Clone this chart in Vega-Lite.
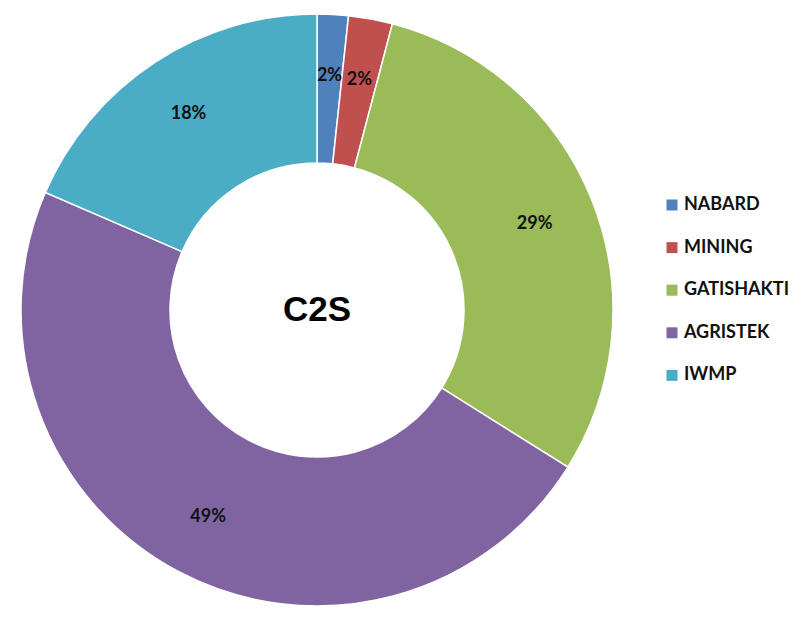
{
  "$schema": "https://vega.github.io/schema/vega-lite/v6.json",
  "width": 634,
  "height": 620,
  "padding": {"left": 0, "top": 0, "right": 173, "bottom": 7},
  "autosize": "none",
  "background": "white",
  "config": {"view": {"stroke": null}},
  "data": {"values": [
    {"idx": 1, "scheme": "NABARD", "value": 1.7, "label": "2%"},
    {"idx": 2, "scheme": "MINING", "value": 2.4, "label": "2%"},
    {"idx": 3, "scheme": "GATISHAKTI", "value": 29.8, "label": "29%"},
    {"idx": 4, "scheme": "AGRISTEK", "value": 47.6, "label": "49%"},
    {"idx": 5, "scheme": "IWMP", "value": 18.5, "label": "18%"}
  ]},
  "encoding": {
    "theta": {"field": "value", "type": "quantitative", "stack": true},
    "order": {"field": "idx", "type": "quantitative"}
  },
  "layer": [
    {
      "mark": {"type": "arc", "outerRadius": 296, "innerRadius": 147, "stroke": "white", "strokeWidth": 1.5},
      "encoding": {
        "color": {
          "field": "scheme", "type": "nominal",
          "scale": {"domain": ["NABARD", "MINING", "GATISHAKTI", "AGRISTEK", "IWMP"],
                    "range": ["#4F81BD", "#C0504D", "#9BBB59", "#8064A2", "#4BACC6"]},
          "legend": {
            "title": null, "orient": "none", "legendX": 663, "legendY": 196,
            "symbolType": "square", "symbolSize": 121, "symbolStrokeWidth": 0,
            "labelFont": "Lato", "labelFontWeight": "bold", "labelFontSize": 18,
            "labelColor": "#111111", "rowPadding": 24.6, "labelOffset": 3
          }
        }
      }
    },
    {
      "mark": {"type": "text", "radius": 234, "font": "Lato", "fontWeight": "bold", "fontSize": 18, "color": "#111111"},
      "encoding": {"text": {"field": "label"}}
    },
    {
      "data": {"values": [{"t": "C2S"}]},
      "mark": {"type": "text", "font": "Liberation Sans", "fontWeight": "bold", "fontSize": 35, "color": "black", "baseline": "middle", "align": "center"},
      "encoding": {"text": {"field": "t"}, "theta": null, "order": null}
    }
  ]
}
